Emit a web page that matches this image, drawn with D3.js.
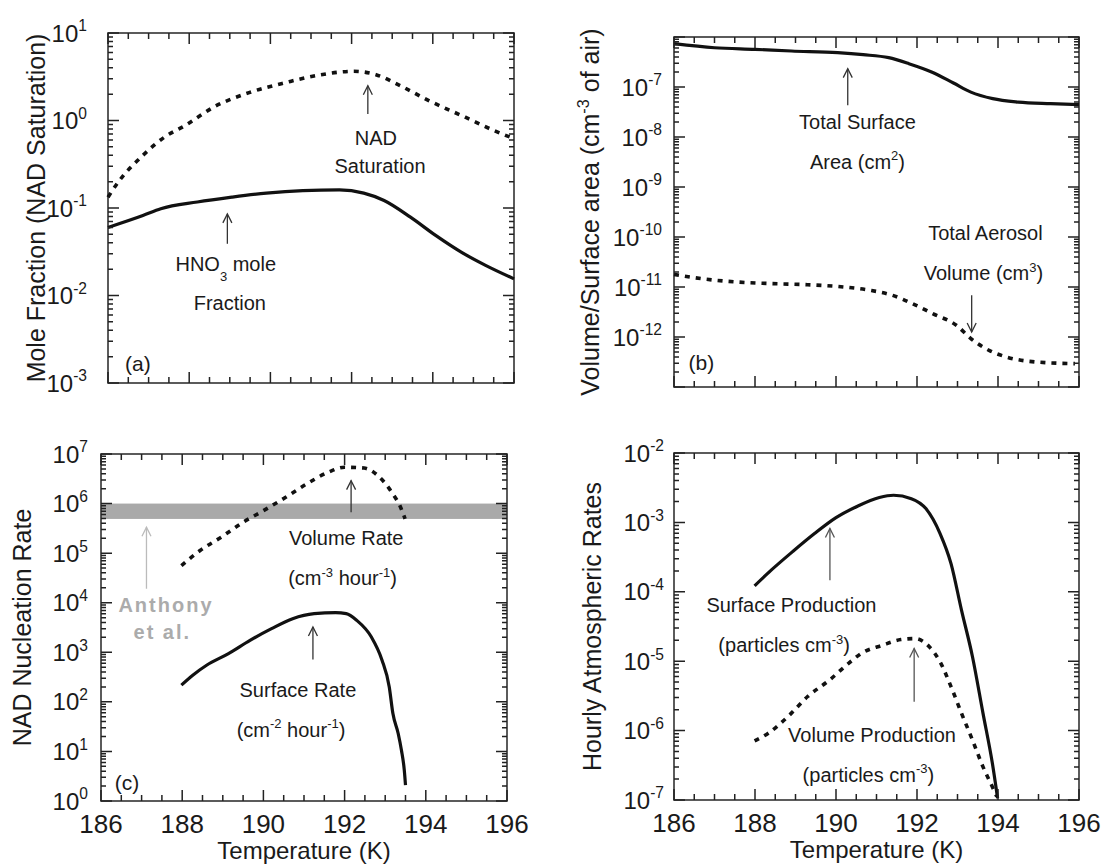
<!DOCTYPE html>
<html>
<head>
<meta charset="utf-8">
<script src="https://cdn.jsdelivr.net/npm/d3@7"></script>
<style>
  body { margin: 0; background: #fff; }
  text { font-family: "Liberation Sans", Arial, Helvetica, sans-serif; fill: #1a1a1a; }
</style>
</head>
<body>
<script>
// ---- data (temperature in K, values on log axes) ----
// (a) NAD saturation (dashed) and HNO3 mole fraction (solid)
const satT  = [186, 186.25, 186.86, 187.4, 187.9, 188.6, 189.5, 190.4, 191.25, 192.05, 192.6, 193.2, 193.9, 194.8, 195.5, 196];
const satV  = [0.133, 0.197, 0.40, 0.65, 0.875, 1.42, 2.1, 2.73, 3.34, 3.65, 3.34, 2.5, 1.69, 1.09, 0.77, 0.62];
const hno3T = [186, 186.86, 187.3, 188.2, 189.05, 189.9, 190.8, 191.7, 192.3, 192.8, 193.45, 194.07, 194.7, 195.3, 196];
const hno3V = [0.060, 0.082, 0.098, 0.117, 0.133, 0.148, 0.158, 0.161, 0.148, 0.122, 0.0786, 0.0486, 0.0313, 0.0221, 0.0155];

// (b) total surface area (solid) and total aerosol volume (dashed)
const areaT = [186, 187.0, 188, 188.9, 190.04, 190.67, 191.3, 191.8, 192.36, 192.9, 193.33, 193.87, 194.5, 195.3, 196];
const areaV = [7.36e-7, 6.1e-7, 5.67e-7, 5.25e-7, 4.86e-7, 4.43e-7, 3.86e-7, 2.93e-7, 2.0e-7, 1.2e-7, 7.9e-8, 5.85e-8, 5.0e-8, 4.64e-8, 4.43e-8];
const volT  = [186, 186.67, 187.56, 188.4, 189.3, 190.2, 190.84, 191.4, 191.9, 192.4, 192.98, 193.33, 193.78, 194.2, 194.95, 195.9];
const volV  = [1.79e-11, 1.47e-11, 1.26e-11, 1.17e-11, 1.11e-11, 1.0e-11, 8.6e-12, 6.8e-12, 4.6e-12, 2.9e-12, 1.7e-12, 9.3e-13, 5.4e-13, 4.0e-13, 3.16e-13, 2.93e-13];

// (c) nucleation rates: volume (dashed), surface (solid), Anthony et al. band
const vrateT = [187.98, 188.44, 188.96, 189.5, 190.0, 190.55, 191.07, 191.6, 192.0, 192.48, 192.83, 193.19, 193.36, 193.49];
const vrateV = [5.6e4, 1.13e5, 2.1e5, 4.2e5, 7.2e5, 1.34e6, 2.5e6, 4.3e6, 5.4e6, 5.2e6, 3.6e6, 1.56e6, 9.1e5, 4.9e5];
const srateT = [187.98, 188.26, 188.6, 189.14, 189.67, 190.2, 190.72, 191.25, 191.78, 192.04, 192.3, 192.66, 192.92, 193.1, 193.19, 193.32, 193.4, 193.47, 193.5];
const srateV = [217, 344, 547, 940, 1740, 3000, 4770, 6020, 6300, 6020, 4400, 2030, 700, 200, 58, 23, 10.6, 4.2, 2.1];
const anthonyBand = [4.9e5, 1.0e6];

// (d) hourly atmospheric rates: surface (solid), volume (dashed)
const sprodT = [187.99, 188.4, 188.94, 189.47, 190.0, 190.53, 191.07, 191.42, 191.86, 192.22, 192.57, 192.84, 193.1, 193.37, 193.63, 193.86, 193.99];
const sprodV = [1.22e-4, 2.05e-4, 3.84e-4, 6.9e-4, 1.17e-3, 1.71e-3, 2.28e-3, 2.46e-3, 2.2e-3, 1.58e-3, 6.9e-4, 2.55e-4, 5.4e-5, 1.16e-5, 1.77e-6, 3.4e-7, 1.06e-7];
const vprodT = [187.99, 188.32, 188.85, 189.3, 189.83, 190.31, 190.62, 191.15, 191.6, 191.95, 192.31, 192.57, 192.84, 193.1, 193.37, 193.63, 193.86, 193.97];
const vprodV = [7.1e-7, 9.1e-7, 1.67e-6, 3.1e-6, 5.3e-6, 9.3e-6, 1.29e-5, 1.7e-5, 2.05e-5, 2.12e-5, 1.6e-5, 9.8e-6, 4.3e-6, 1.77e-6, 7.3e-7, 3.0e-7, 1.55e-7, 1.12e-7];

// axis ticks
const tempMajor = [186, 188, 190, 192, 194, 196];
const tempMinor = [186.5, 187, 187.5, 188.5, 189, 189.5, 190.5, 191, 191.5, 192.5, 193, 193.5, 194.5, 195, 195.5];
const tempLabels = ["186", "188", "190", "192", "194", "196"];

const W = 1102, H = 865;
const svg = d3.select("body").append("svg").attr("width", W).attr("height", H);
svg.append("rect").attr("width", W).attr("height", H).attr("fill", "#fff");

// text with super/subscripts; parts: "str" or {t, k}  (k=1 sup, k=-1 sub)
function richText(g, x, y, parts, size, anchor) {
	const t = g.append("text").attr("x", x).attr("y", y)
		.attr("font-size", size).attr("text-anchor", anchor || "middle");
	let cur = 0;
	parts.forEach(p => {
		const s = typeof p === "string" ? {t: p, k: 0} : p;
		const target = s.k === 1 ? -size * 0.42 : s.k === -1 ? size * 0.5 : 0;
		t.append("tspan").attr("dy", target - cur)
			.attr("font-size", s.k ? size * 0.65 : size).text(s.t);
		cur = target;
	});
	return t;
}

function drawPanel(p) {
	const g = svg.append("g");
	const x = d3.scaleLinear().domain([186, 196]).range([p.l, p.r]);
	const y = d3.scaleLog().domain(p.yDom).range([p.b, p.t]);

	const e0 = Math.round(Math.log10(p.yDom[0])), e1 = Math.round(Math.log10(p.yDom[1]));
	const decades = d3.range(e0, e1 + 1).map(e => Math.pow(10, e));
	const minors = [];
	d3.range(e0, e1).forEach(e => { for (let k = 2; k <= 9; k++) minors.push(k * Math.pow(10, e)); });

	if (p.band) {
		g.append("rect").attr("x", x(186)).attr("width", x(196) - x(186))
			.attr("y", y(p.band[1])).attr("height", y(p.band[0]) - y(p.band[1]))
			.attr("fill", "#a9a9a9");
	}

	g.append("rect").attr("x", p.l).attr("y", p.t)
		.attr("width", p.r - p.l).attr("height", p.b - p.t)
		.attr("fill", "none").attr("stroke", "#333").attr("stroke-width", 1.6);

	// y tick labels 10^n
	p.labelExps.forEach(e => {
		richText(g, p.l - p.gap, y(Math.pow(10, e)) + 8.5, ["10", {t: String(e), k: 1}], 24, "end");
	});

	// x tick labels + title
	if (p.xLabels) {
		tempMajor.forEach((t, i) => {
			g.append("text").attr("x", x(t)).attr("y", p.b + 32)
				.attr("font-size", 26).attr("text-anchor", "middle").text(tempLabels[i]);
		});
		g.append("text").attr("x", (p.l + p.r) / 2).attr("y", p.b + 58)
			.attr("font-size", 24).attr("text-anchor", "middle").text("Temperature (K)");
	}

	// y title
	richText(g, 0, 0, p.title, 25, "middle")
		.attr("transform", `translate(${p.titleX},${(p.t + p.b) / 2}) rotate(-90)`);

	// curves
	const line = d3.line().x(d => x(d[0])).y(d => y(d[1])).curve(d3.curveMonotoneX);
	p.series.forEach(s => {
		g.append("path").datum(d3.zip(s.T, s.V))
			.attr("d", line).attr("fill", "none").attr("stroke", "#111")
			.attr("stroke-width", s.dash ? 3.6 : 3.2)
			.attr("stroke-dasharray", s.dash ? "5,6" : null);
	});

	// arrows
	p.arrows.forEach(a => {
		const ax = x(a.T), y0 = y(a.from), y1 = y(a.to);
		const dir = y1 < y0 ? 1 : -1;
		const col = a.color || "#333";
		g.append("line").attr("x1", ax).attr("x2", ax).attr("y1", y0).attr("y2", y1)
			.attr("stroke", col).attr("stroke-width", 1.3);
		g.append("path")
			.attr("d", `M${ax - 4.5},${y1 + dir * 9}L${ax},${y1}L${ax + 4.5},${y1 + dir * 9}`)
			.attr("fill", "none").attr("stroke", col).attr("stroke-width", 1.3);
	});

	// annotation labels
	p.notes.forEach(n => {
		const t = richText(g, x(n.T), y(n.V), n.parts, n.size || 20, n.anchor || "middle");
		if (n.color) t.selectAll("tspan").style("fill", n.color);
		if (n.bold) t.attr("font-weight", "bold").attr("letter-spacing", 2);
	});

	// inward ticks on all four sides (drawn last, straight on the svg)
	const tk = svg.append("g").attr("fill", "none").attr("stroke", "#222").attr("stroke-width", 1.5);
	tk.append("path").attr("d", tempMajor.map(d => `M${x(d)},${p.b}V${p.b - 11}M${x(d)},${p.t}V${p.t + 11}`).join(""));
	tk.append("path").attr("d", tempMinor.map(d => `M${x(d)},${p.b}V${p.b - 6}M${x(d)},${p.t}V${p.t + 6}`).join(""));
	tk.append("path").attr("d", decades.map(d => `M${p.l},${y(d)}H${p.l + 11}M${p.r},${y(d)}H${p.r - 11}`).join(""));
	tk.append("path").attr("d", minors.map(d => `M${p.l},${y(d)}H${p.l + 5}M${p.r},${y(d)}H${p.r - 5}`).join(""));
}

drawPanel({
	l: 108, r: 514, t: 33, b: 383, yDom: [1e-3, 1e1], labelExps: [-3, -2, -1, 0, 1], gap: 21,
	title: ["Mole Fraction (NAD Saturation)"], titleX: 45,
	series: [{T: satT, V: satV, dash: true}, {T: hno3T, V: hno3V}],
	arrows: [{T: 192.4, from: 1.19, to: 2.5}, {T: 188.94, from: 0.039, to: 0.0857}],
	notes: [
		{T: 192.6, V: 0.526, parts: ["NAD"]},
		{T: 192.7, V: 0.25, parts: ["Saturation"]},
		{T: 188.9, V: 0.019, parts: ["HNO", {t: "3", k: -1}, " mole"]},
		{T: 189.0, V: 0.00676, parts: ["Fraction"]},
		{T: 186.42, V: 1.36e-3, parts: ["(a)"], anchor: "start", size: 21}
	]
});

drawPanel({
	l: 674, r: 1079, t: 37, b: 387, yDom: [1e-13, 1e-6], labelExps: [-12, -11, -10, -9, -8, -7], gap: 12,
	title: ["Volume/Surface area (cm", {t: "-3", k: 1}, " of air)"], titleX: 599,
	series: [{T: areaT, V: areaV}, {T: volT, V: volV, dash: true}],
	arrows: [{T: 190.29, from: 4.3e-8, to: 2.33e-7}, {T: 193.35, from: 6.8e-12, to: 1.26e-12}],
	notes: [
		{T: 190.53, V: 1.47e-8, parts: ["Total Surface"]},
		{T: 190.53, V: 2.33e-9, parts: ["Area (cm", {t: "2", k: 1}, ")"]},
		{T: 193.69, V: 8.6e-11, parts: ["Total Aerosol"]},
		{T: 193.64, V: 1.36e-11, parts: ["Volume (cm", {t: "3", k: 1}, ")"]},
		{T: 186.36, V: 2.15e-13, parts: ["(b)"], anchor: "start", size: 21}
	]
});

drawPanel({
	l: 101, r: 507, t: 454, b: 801, yDom: [1, 1e7], labelExps: [0, 1, 2, 3, 4, 5, 6, 7], gap: 13,
	title: ["NAD Nucleation Rate"], titleX: 31, xLabels: true, band: anthonyBand,
	series: [{T: vrateT, V: vrateV, dash: true}, {T: srateT, V: srateV}],
	arrows: [
		{T: 192.16, from: Math.pow(10, 5.826), to: Math.pow(10, 6.463)},
		{T: 187.12, from: Math.pow(10, 4.282), to: Math.pow(10, 5.523), color: "#bbb"},
		{T: 191.22, from: Math.pow(10, 2.852), to: Math.pow(10, 3.51)}
	],
	notes: [
		{T: 192.04, V: Math.pow(10, 5.174), parts: ["Volume Rate"]},
		{T: 191.95, V: Math.pow(10, 4.349), parts: ["(cm", {t: "-3", k: 1}, " hour", {t: "-1", k: 1}, ")"]},
		{T: 187.6, V: Math.pow(10, 3.81), parts: ["Anthony"], color: "#ababab", bold: true},
		{T: 187.51, V: Math.pow(10, 3.275), parts: ["et al."], color: "#ababab", bold: true},
		{T: 190.85, V: Math.pow(10, 2.1), parts: ["Surface Rate"]},
		{T: 190.68, V: Math.pow(10, 1.295), parts: ["(cm", {t: "-2", k: 1}, " hour", {t: "-1", k: 1}, ")"]},
		{T: 186.34, V: Math.pow(10, 0.221), parts: ["(c)"], anchor: "start", size: 21}
	]
});

drawPanel({
	l: 674, r: 1079, t: 453, b: 800, yDom: [1e-7, 1e-2], labelExps: [-7, -6, -5, -4, -3, -2], gap: 10,
	title: ["Hourly Atmospheric Rates"], titleX: 601, xLabels: true,
	series: [{T: sprodT, V: sprodV}, {T: vprodT, V: vprodV, dash: true}],
	arrows: [
		{T: 189.85, from: Math.pow(10, -3.833), to: Math.pow(10, -3.089), color: "#555"},
		{T: 191.93, from: Math.pow(10, -5.584), to: Math.pow(10, -4.817), color: "#555"}
	],
	notes: [
		{T: 188.9, V: Math.pow(10, -4.289), parts: ["Surface Production"]},
		{T: 188.72, V: Math.pow(10, -4.874), parts: ["(particles cm", {t: "-3", k: 1}, ")"]},
		{T: 190.89, V: Math.pow(10, -6.16), parts: ["Volume Production"]},
		{T: 190.8, V: Math.pow(10, -6.736), parts: ["(particles cm", {t: "-3", k: 1}, ")"]}
	]
});
</script>
</body>
</html>
